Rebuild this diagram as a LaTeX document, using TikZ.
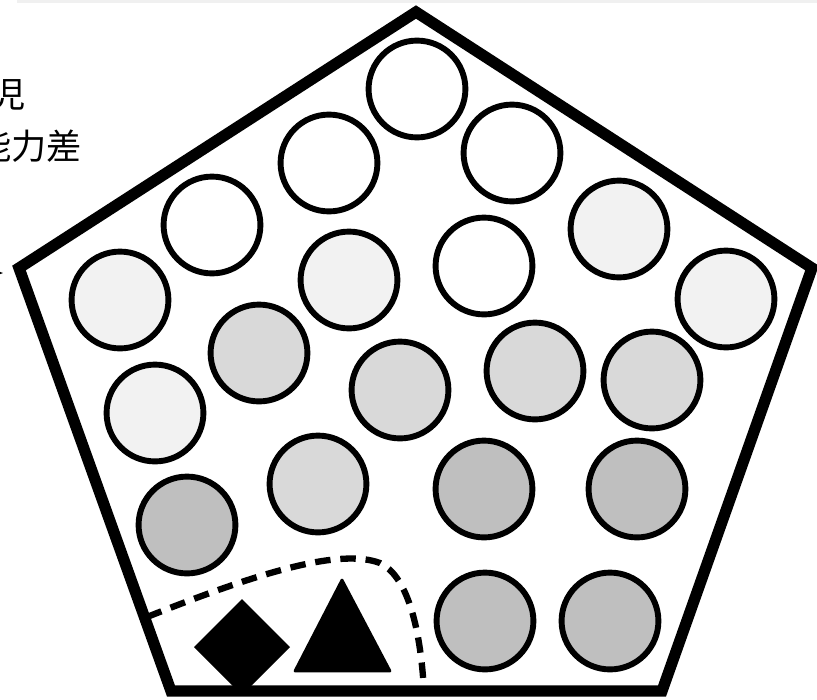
\documentclass[tikz,border=0pt]{standalone}
\usepackage{fontspec}
\newfontfamily\jpfont{Noto Sans CJK JP}
\usetikzlibrary{arrows.meta}
\definecolor{paleball}{HTML}{F2F2F2}
\definecolor{midball}{HTML}{D9D9D9}
\definecolor{darkball}{HTML}{BFBFBF}
\definecolor{bandgray}{HTML}{F0F0F0}
\tikzset{
  ball/.style={draw, circle, line width=4.2pt, minimum size=2.42cm, inner sep=0pt},
  pent/.style={draw, line width=8pt, line join=miter},
  lbl/.style={font=\jpfont\fontsize{25}{30}\selectfont, inner sep=0pt}
}
\begin{document}
\begin{tikzpicture}[x=0.025cm, y=-0.025cm]
\useasboundingbox (0,0) rectangle (817,699);
\fill[bandgray] (17,0) rectangle (817,3);
% labels, cut at the left border
\node[lbl, anchor=east] (top) at (26,95) {児};
\node[lbl, anchor=east] (gap) at (82,146) {能力差};
\coordinate (from) at (-40,273);
\coordinate (tip) at (3,273);
\draw[line width=1pt, -{Stealth[length=5pt]}] (from) -- (tip);
% the group
\draw[pent] (416,12) -- (812,268) -- (662,691) -- (171,691) -- (19,268) -- cycle;
\node[ball, fill=white] (b1) at (417,89) {};
\node[ball, fill=white] (b2) at (329,163) {};
\node[ball, fill=white] (b3) at (512,153) {};
\node[ball, fill=white] (b4) at (212,225) {};
\node[ball, fill=paleball] (b5) at (619,229) {};
\node[ball, fill=white] (b6) at (484,266) {};
\node[ball, fill=paleball] (b7) at (349,280) {};
\node[ball, fill=paleball] (b8) at (120,300) {};
\node[ball, fill=paleball] (b9) at (726,299) {};
\node[ball, fill=midball] (b10) at (259,353) {};
\node[ball, fill=midball] (b11) at (400,390) {};
\node[ball, fill=midball] (b12) at (535,371) {};
\node[ball, fill=midball] (b13) at (652,380) {};
\node[ball, fill=paleball] (b14) at (155,413) {};
\node[ball, fill=midball] (b15) at (318,484) {};
\node[ball, fill=darkball] (b16) at (484,489) {};
\node[ball, fill=darkball] (b17) at (637,489) {};
\node[ball, fill=darkball] (b18) at (187,525) {};
\node[ball, fill=darkball] (b19) at (485,621) {};
\node[ball, fill=darkball] (b20) at (610,621) {};
% the corner with the odd ones
\draw[line width=4.5pt, dash pattern=on 11pt off 7pt]
  (147,617) .. controls (260,572) and (340,548) .. (380,563)
  .. controls (405,575) and (420,620) .. (424,691);
\fill (242,599) -- (290,647) -- (242,695) -- (194,647) -- cycle;
\filldraw[line width=2pt, line join=round] (342,580) -- (390,671) -- (295,671) -- cycle;
\end{tikzpicture}
\end{document}
